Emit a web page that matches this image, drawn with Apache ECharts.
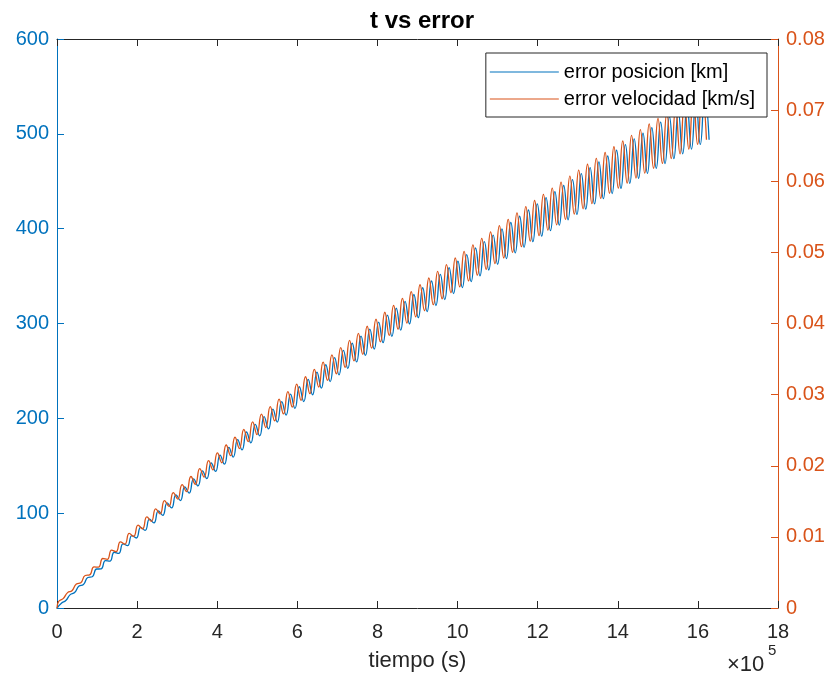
<!DOCTYPE html>
<html>
<head>
<meta charset="utf-8">
<script src="https://cdn.jsdelivr.net/npm/echarts@6/dist/echarts.min.js"></script>
<style>
  html, body { margin: 0; padding: 0; background: #fff; }
  #chart { width: 837px; height: 681px; }
</style>
</head>
<body>
<div id="chart"></div>
<script>
// tiempo in units of 1e5 s; extrema of the oscillation
var halfPeriod = 0.11;   // time between a peak and the next trough
var velLead = 0.066;     // velocity error leads position error

var xTicks = [0, 18, 2];
var posTicks = [0, 600, 100];
var velTicks = [0, 0.08, 0.01];

// error posicion [km], successive troughs/peaks
var errPosicion = [
  0, 5.1, 7.9, 14.1, 16.3, 23.2, 24.7, 32.2, 33.0, 41.1,
  41.2, 50.0, 49.4, 58.8, 57.6, 67.6, 65.7, 76.4, 73.8, 85.1,
  81.8, 93.7, 89.7, 102.3, 97.7, 110.8, 105.5, 119.3, 113.3, 127.8,
  121.1, 136.2, 128.8, 144.6, 136.5, 152.9, 144.1, 161.1, 151.7, 169.3,
  159.2, 177.5, 166.7, 185.6, 174.1, 193.7, 181.5, 201.7, 188.8, 209.7,
  196.1, 217.6, 203.4, 225.5, 210.5, 233.3, 217.7, 241.0, 224.8, 248.8,
  231.8, 256.5, 238.8, 264.1, 245.8, 271.7, 252.7, 279.2, 259.5, 286.7,
  266.3, 294.1, 273.1, 301.5, 279.8, 308.8, 286.4, 316.1, 293.0, 323.4,
  299.6, 330.6, 306.1, 337.7, 312.6, 344.8, 319.0, 351.9, 325.3, 358.9,
  331.6, 365.8, 337.9, 372.7, 344.1, 379.6, 350.3, 386.4, 356.4, 393.1,
  362.5, 399.8, 368.5, 406.5, 374.5, 413.1, 380.4, 419.7, 386.3, 426.2,
  392.1, 432.7, 397.9, 439.1, 403.7, 445.5, 409.4, 451.8, 415.0, 458.1,
  420.6, 464.3, 426.1, 470.5, 431.6, 476.6, 437.1, 482.7, 442.5, 488.7,
  447.8, 494.7, 453.1, 500.6, 458.4, 506.5, 463.6, 512.4, 468.7, 518.1,
  473.8, 523.9, 478.9, 529.6, 483.9, 535.2, 488.8, 540.8, 493.8
];

// error velocidad [km/s], successive troughs/peaks
var errVelocidad = [
  0, 0.00095, 0.00132, 0.00216, 0.00243, 0.00337, 0.00354, 0.00457, 0.00465, 0.00577,
  0.00574, 0.00696, 0.00683, 0.00814, 0.00792, 0.00931, 0.00899, 0.01048, 0.01007, 0.01165,
  0.01113, 0.01280, 0.01219, 0.01395, 0.01324, 0.01510, 0.01429, 0.01623, 0.01532, 0.01736,
  0.01636, 0.01849, 0.01738, 0.01960, 0.01840, 0.02072, 0.01941, 0.02182, 0.02042, 0.02292,
  0.02142, 0.02401, 0.02241, 0.02510, 0.02340, 0.02617, 0.02438, 0.02725, 0.02536, 0.02831,
  0.02632, 0.02937, 0.02729, 0.03043, 0.02824, 0.03147, 0.02919, 0.03251, 0.03013, 0.03355,
  0.03107, 0.03457, 0.03199, 0.03559, 0.03292, 0.03661, 0.03383, 0.03762, 0.03474, 0.03862,
  0.03565, 0.03961, 0.03654, 0.04060, 0.03743, 0.04158, 0.03832, 0.04256, 0.03919, 0.04353,
  0.04006, 0.04449, 0.04093, 0.04545, 0.04179, 0.04640, 0.04264, 0.04734, 0.04348, 0.04828,
  0.04432, 0.04921, 0.04515, 0.05013, 0.04598, 0.05105, 0.04680, 0.05196, 0.04761, 0.05287,
  0.04842, 0.05376, 0.04922, 0.05465, 0.05001, 0.05554, 0.05080, 0.05642, 0.05158, 0.05729,
  0.05235, 0.05816, 0.05312, 0.05902, 0.05388, 0.05987, 0.05464, 0.06072, 0.05539, 0.06156,
  0.05613, 0.06239, 0.05686, 0.06322, 0.05759, 0.06404, 0.05831, 0.06485, 0.05903, 0.06566,
  0.05974, 0.06646, 0.06044, 0.06726, 0.06114, 0.06805, 0.06183, 0.06883, 0.06251, 0.06960,
  0.06319, 0.07037, 0.06386, 0.07113, 0.06453, 0.07189, 0.06518, 0.07264, 0.06584
];

var blue = "#0072BD";
var orange = "#D95319";
var dark = "#262626";
var font = "'Liberation Sans', Arial, Helvetica, sans-serif";

var posData = errPosicion.map(function (v, i) { return [i * halfPeriod, v]; });
var velData = errVelocidad.map(function (v, i) { return [i === 0 ? 0 : i * halfPeriod - velLead, v]; });

var chart = echarts.init(document.getElementById("chart"));

var option = {
  animation: false,
  backgroundColor: "#fff",
  title: {
    text: "t vs error",
    left: 417, top: 4, textAlign: "center",
    textStyle: { fontFamily: font, fontSize: 24, fontWeight: "bold", color: "#000" }
  },
  grid: { left: 57, right: 59, top: 39, bottom: 73 },
  legend: {
    orient: "vertical",
    right: 70, top: 53,
    icon: "rect", itemWidth: 69, itemHeight: 1, itemGap: 7,
    padding: [9, 12, 8, 4],
    backgroundColor: "#fff",
    borderColor: dark, borderWidth: 1,
    textStyle: { fontFamily: font, fontSize: 20, color: "#000" },
    data: [
      { name: "error posicion [km]", itemStyle: { color: blue } },
      { name: "error velocidad [km/s]", itemStyle: { color: orange } }
    ]
  },
  xAxis: [{
    type: "value",
    min: xTicks[0], max: xTicks[1], interval: xTicks[2],
    name: "tiempo (s)", nameLocation: "middle", nameGap: 42,
    nameTextStyle: { fontFamily: font, fontSize: 22, color: dark },
    axisLine: { show: true, onZero: false, lineStyle: { color: dark, width: 1 } },
    axisTick: { inside: true, length: 7, lineStyle: { color: dark } },
    axisLabel: { margin: 14, fontFamily: font, fontSize: 20, color: dark },
    splitLine: { show: false }
  }, {
    type: "value", position: "top",
    min: xTicks[0], max: xTicks[1], interval: xTicks[2],
    axisLine: { show: true, onZero: false, lineStyle: { color: dark, width: 1 } },
    axisTick: { inside: true, length: 7, lineStyle: { color: dark } },
    axisLabel: { show: false },
    splitLine: { show: false }
  }],
  yAxis: [{
    type: "value", position: "left",
    min: posTicks[0], max: posTicks[1], interval: posTicks[2],
    axisLine: { show: true, onZero: false, lineStyle: { color: blue, width: 1 } },
    axisTick: { show: true, inside: true, length: 7, lineStyle: { color: blue } },
    axisLabel: { margin: 8, fontFamily: font, fontSize: 20, color: blue },
    splitLine: { show: false }
  }, {
    type: "value", position: "right",
    min: velTicks[0], max: velTicks[1], interval: velTicks[2],
    axisLine: { show: true, onZero: false, lineStyle: { color: orange, width: 1 } },
    axisTick: { show: true, inside: true, length: 7, lineStyle: { color: orange } },
    axisLabel: {
      margin: 8, fontFamily: font, fontSize: 20, color: orange,
      formatter: function (v) { return v === 0 ? "0" : v.toFixed(2); }
    },
    splitLine: { show: false }
  }],
  series: [{
    name: "error posicion [km]",
    type: "line", xAxisIndex: 0, yAxisIndex: 0,
    data: posData, smooth: true, symbol: "none",
    lineStyle: { color: blue, width: 1.3 },
    itemStyle: { color: blue }
  }, {
    name: "error velocidad [km/s]",
    type: "line", xAxisIndex: 0, yAxisIndex: 1,
    data: velData, smooth: true, symbol: "none",
    lineStyle: { color: orange, width: 1.3 },
    itemStyle: { color: orange }
  }],
  graphic: [{
    type: "text", left: 727, top: 654,
    style: { text: "×10", font: "22px " + font, fill: dark }
  }, {
    type: "text", left: 768, top: 643,
    style: { text: "5", font: "15px " + font, fill: dark }
  }]
};

chart.setOption(option);
window.addEventListener("resize", function () { chart.resize(); });
</script>
</body>
</html>
